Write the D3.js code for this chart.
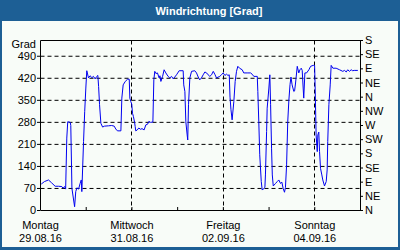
<!DOCTYPE html>
<html>
<head>
<meta charset="utf-8">
<script src="https://cdn.jsdelivr.net/npm/d3@7"></script>
<style>
  body { margin: 0; background: #1d5f95; }
  svg text { font-family: "Liberation Sans", Arial, sans-serif; }
</style>
</head>
<body>
<div id="chart"></div>
<script>
// hours since Mo 29.08.16 00:00 and wind direction in degrees
var hours = [0.4, 2.1, 4.2, 5.8, 7.7, 9.5, 11.2, 11.8, 12.8, 13.2, 13.8, 14.3, 15.6, 15.9, 16.5, 17.9,
  18.5, 19.1, 20.0, 20.8, 21.4, 21.7, 22.6, 23.2, 23.8, 24.3, 25.2, 26.0, 27.0, 27.8, 28.7, 29.4,
  30.1, 30.5, 31.0, 31.7, 32.6, 33.6, 35.7, 37.3, 38.7, 39.5, 40.4, 42.2, 42.7, 43.4, 44.5, 45.7,
  46.6, 46.9, 47.4, 47.9, 48.3, 48.8, 49.4, 49.7, 50.0, 50.8, 51.6, 52.5, 53.3, 54.4, 55.3, 56.2,
  56.9, 57.8, 59.0, 59.5, 60.0, 60.6, 61.4, 62.3, 62.7, 63.2, 64.1, 64.9, 65.8, 67.0, 67.9, 68.8,
  69.7, 71.4, 72.8, 74.9, 75.2, 75.8, 76.3, 77.0, 77.3, 77.7, 78.4, 79.3, 81.0, 81.9, 82.8, 83.6,
  84.5, 85.4, 86.3, 87.2, 88.0, 88.9, 89.8, 90.7, 91.5, 92.4, 93.3, 94.1, 95.0, 95.9, 96.8, 97.7,
  98.4, 99.1, 99.5, 100.0, 100.6, 101.5, 102.2, 102.9, 103.6, 104.5, 105.9, 106.7, 108.5, 110.3,
  111.1, 112.0, 113.8, 114.1, 114.6, 115.1, 115.9, 116.4, 116.9, 117.8, 118.1, 118.7, 119.0, 119.9,
  120.4, 120.8, 121.3, 121.7, 122.2, 123.4, 124.3, 125.1, 126.0, 126.7, 127.4, 128.1, 128.6, 129.2,
  129.8, 130.4, 131.0, 131.5, 132.1, 133.0, 133.4, 133.9, 134.8, 135.6, 136.2, 136.9, 137.4, 137.9,
  138.2, 138.8, 139.7, 140.9, 141.8, 143.2, 143.9, 144.2, 144.7, 145.3, 145.6, 146.1, 146.5, 147.0,
  147.7, 148.2, 149.1, 150.0, 150.5, 150.8, 151.4, 152.1, 152.6, 153.5, 155.2, 157.0, 158.7, 159.6,
  160.5, 161.3, 162.2, 163.1, 163.9, 164.7, 166.6];
var degrees = [84, 92, 97, 88, 77, 77, 76, 71, 76, 68, 230, 282, 280, 270, 70, 12,
  60, 72, 68, 86, 97, 60, 219, 314, 389, 444, 421, 428, 422, 426, 418, 425,
  429, 394, 336, 277, 265, 268, 269, 270, 268, 259, 253, 253, 357, 399, 410, 417,
  417, 357, 346, 338, 309, 298, 280, 267, 253, 256, 262, 258, 260, 256, 272, 274,
  283, 280, 281, 415, 442, 435, 437, 421, 428, 410, 426, 447, 437, 426, 421, 426,
  418, 431, 444, 444, 399, 378, 282, 240, 224, 336, 421, 442, 444, 437, 424, 415,
  421, 431, 440, 437, 431, 426, 431, 442, 433, 421, 424, 426, 431, 437, 429, 433,
  429, 431, 360, 320, 288, 346, 410, 442, 458, 452, 447, 437, 437, 437,
  433, 426, 426, 378, 282, 177, 92, 65, 68, 73, 113, 251, 325, 389,
  431, 336, 198, 113, 78, 86, 92, 97, 86, 90, 70, 58, 73, 145,
  282, 351, 400, 424, 399, 378, 380, 405, 458, 437, 447, 452, 445, 389,
  357, 437, 437, 447, 458, 461, 461, 389, 240, 187, 240, 249, 187, 134,
  113, 97, 78, 92, 129, 219, 336, 399, 461, 452, 452, 447, 442, 445,
  440, 447, 442, 447, 444, 445, 445];

var gradTicks = [0, 70, 140, 210, 280, 350, 420, 490];
var compassTicks = [0, 45, 90, 135, 180, 225, 270, 315, 360, 405, 450, 495, 540];
var compassLabels = ["N", "NE", "E", "SE", "S", "SW", "W", "NW", "N", "NE", "E", "SE", "S"];
var dayLabels = ["Montag", "Mittwoch", "Freitag", "Sonntag"];
var dateLabels = ["29.08.16", "31.08.16", "02.09.16", "04.09.16"];

function init() {
  var w = 400, h = 250;
  var left = 40, right = 360, top = 40, bottom = 210;

  var start = new Date(2016, 7, 29);
  var end = new Date(2016, 8, 5);

  var svg = d3.select("#chart").append("svg")
    .attr("width", w)
    .attr("height", h);

  // frame
  svg.append("rect").attr("width", w).attr("height", h).attr("fill", "#1d5f95");
  svg.append("rect")
    .attr("x", 2).attr("y", 21)
    .attr("width", w - 4).attr("height", h - 24)
    .attr("fill", "#f8fcf8");

  svg.append("text")
    .attr("x", 209).attr("y", 15)
    .attr("text-anchor", "middle")
    .attr("fill", "#ffffff")
    .attr("font-size", "11px")
    .attr("font-weight", "bold")
    .text("Windrichtung [Grad]");

  var x = d3.scaleTime().domain([start, end]).range([left, right]);
  var y = d3.scaleLinear().domain([0, 540]).range([bottom, top]);

  var data = hours.map(function(hr, i) {
    return { t: new Date(start.getTime() + hr * 3600000), v: degrees[i] };
  });

  var allDays = d3.timeDay.range(start, end);
  var labelDays = allDays.filter(function(d, i) { return i % 2 === 0; });

  // grid
  svg.append("g").selectAll("line")
    .data(gradTicks.slice(1))
    .enter().append("line")
    .attr("x1", left + 0.5).attr("x2", right + 0.5)
    .attr("y1", function(d) { return y(d) + 0.5; })
    .attr("y2", function(d) { return y(d) + 0.5; })
    .attr("stroke", "#000")
    .attr("stroke-dasharray", "4,3");

  svg.append("g").selectAll("line")
    .data(labelDays.slice(1))
    .enter().append("line")
    .attr("x1", function(d) { return Math.round(x(d)) + 0.5; })
    .attr("x2", function(d) { return Math.round(x(d)) + 0.5; })
    .attr("y1", top + 0.5).attr("y2", bottom + 0.5)
    .attr("stroke", "#000")
    .attr("stroke-dasharray", "4,3");

  svg.append("line")
    .attr("x1", left + 0.5).attr("x2", right + 0.5)
    .attr("y1", top + 0.5).attr("y2", top + 0.5)
    .attr("stroke", "#000");

  // axes
  var yLeft = svg.append("g")
    .attr("transform", "translate(" + left + ",0)")
    .call(d3.axisLeft(y).tickValues(gradTicks).tickSize(3).tickSizeOuter(0).tickPadding(1));

  var yRight = svg.append("g")
    .attr("transform", "translate(" + right + ",0)")
    .call(d3.axisRight(y).tickValues(compassTicks).tickSize(3).tickSizeOuter(0).tickPadding(2)
      .tickFormat(function(d, i) { return compassLabels[i]; }));

  var xAxis = svg.append("g")
    .attr("transform", "translate(0," + bottom + ")")
    .call(d3.axisBottom(x).tickValues(allDays.concat([end])).tickSize(-3).tickSizeOuter(0)
      .tickFormat(""));

  [yLeft, yRight, xAxis].forEach(function(g) {
    g.selectAll("path, line").attr("stroke", "#000");
    g.selectAll("text").attr("fill", "#000").attr("font-size", "11px")
      .attr("font-family", "'Liberation Sans', Arial, sans-serif");
  });

  svg.append("text")
    .attr("x", 36).attr("y", 48)
    .attr("text-anchor", "end")
    .attr("font-size", "11px")
    .text("Grad");

  var xl = svg.append("g").selectAll("g")
    .data(labelDays)
    .enter().append("g")
    .attr("transform", function(d) { return "translate(" + (x(d) + 0.5) + ",0)"; });
  xl.append("text")
    .attr("y", 229)
    .attr("text-anchor", "middle")
    .attr("font-size", "11px")
    .text(function(d, i) { return dayLabels[i]; });
  xl.append("text")
    .attr("y", 242)
    .attr("text-anchor", "middle")
    .attr("font-size", "11px")
    .text(function(d, i) { return dateLabels[i]; });

  // series
  var line = d3.line()
    .x(function(d) { return x(d.t) + 0.5; })
    .y(function(d) { return y(d.v) + 0.5; });

  svg.append("path")
    .datum(data)
    .attr("fill", "none")
    .attr("stroke", "#0000f0")
    .attr("stroke-width", 1)
    .attr("d", line);
}

window.onload = init;
</script>
</body>
</html>
